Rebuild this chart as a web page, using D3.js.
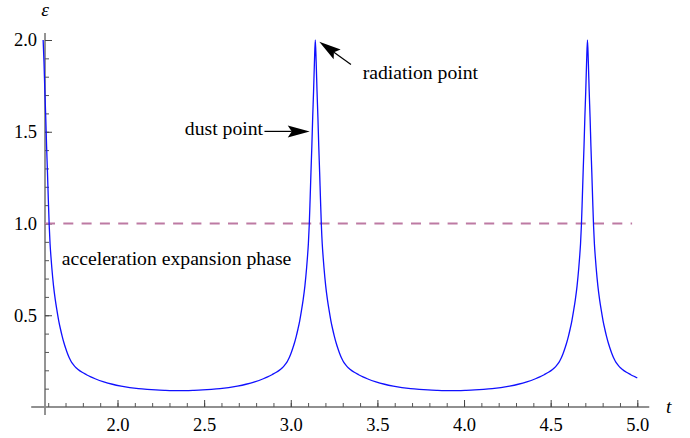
<!DOCTYPE html>
<html>
<head>
<meta charset="utf-8">
<script src="https://cdn.jsdelivr.net/npm/d3@7"></script>
<style>
  html, body { margin: 0; padding: 0; background: #fff; }
  svg { display: block; }
  svg text { font-family: "Liberation Serif", "Times New Roman", serif; fill: #000; }
</style>
</head>
<body>
<svg id="chart" width="690" height="438"></svg>
<script>
// ---- data ----
const tValues = [
  // from the first peak (t = pi/2) down to the valley
  1.5708, 1.5758, 1.5808, 1.5858, 1.5908, 1.5958, 1.6008, 1.6058, 1.6108, 1.6158,
  1.6208, 1.6308, 1.6408, 1.6508, 1.6608, 1.6708, 1.6808, 1.6908, 1.7008, 1.7108,
  1.7208, 1.7308, 1.7408, 1.7508, 1.7608, 1.7708, 1.7958, 1.8208, 1.8458, 1.8708,
  1.9208, 1.9708, 2.0208, 2.0708, 2.1208, 2.1708, 2.2208, 2.2708, 2.3562,
  // up to the second peak (t = pi)
  2.4416, 2.4916, 2.5416, 2.5916, 2.6416, 2.6916, 2.7416, 2.7916, 2.8416, 2.8666,
  2.8916, 2.9166, 2.9416, 2.9516, 2.9616, 2.9716, 2.9816, 2.9916, 3.0016, 3.0116,
  3.0216, 3.0316, 3.0416, 3.0516, 3.0616, 3.0716, 3.0816, 3.0916, 3.0966, 3.1016,
  3.1066, 3.1116, 3.1166, 3.1216, 3.1266, 3.1316, 3.1366, 3.1416,
  // down to the second valley
  3.1466, 3.1516, 3.1566, 3.1616, 3.1666, 3.1716, 3.1766, 3.1816, 3.1866, 3.1916,
  3.2016, 3.2116, 3.2216, 3.2316, 3.2416, 3.2516, 3.2616, 3.2716, 3.2816, 3.2916,
  3.3016, 3.3116, 3.3216, 3.3316, 3.3416, 3.3666, 3.3916, 3.4166, 3.4416, 3.4916,
  3.5416, 3.5916, 3.6416, 3.6916, 3.7416, 3.7916, 3.8416, 3.9270,
  // up to the third peak (t = 3pi/2)
  4.0124, 4.0624, 4.1124, 4.1624, 4.2124, 4.2624, 4.3124, 4.3624, 4.4124, 4.4374,
  4.4624, 4.4874, 4.5124, 4.5224, 4.5324, 4.5424, 4.5524, 4.5624, 4.5724, 4.5824,
  4.5924, 4.6024, 4.6124, 4.6224, 4.6324, 4.6424, 4.6524, 4.6624, 4.6674, 4.6724,
  4.6774, 4.6824, 4.6874, 4.6924, 4.6974, 4.7024, 4.7074, 4.7124,
  // down to t = 5
  4.7174, 4.7224, 4.7274, 4.7324, 4.7374, 4.7424, 4.7474, 4.7524, 4.7574, 4.7624,
  4.7724, 4.7824, 4.7924, 4.8024, 4.8124, 4.8224, 4.8324, 4.8424, 4.8524, 4.8624,
  4.8724, 4.8824, 4.8924, 4.9024, 4.9124, 4.9374, 4.9624, 4.9874, 5.0000
];
const epsValues = [
  2.00, 1.88, 1.72, 1.58, 1.42, 1.28, 1.13, 0.99, 0.89, 0.82,
  0.76, 0.66, 0.585, 0.525, 0.47, 0.425, 0.385, 0.35, 0.32, 0.293,
  0.27, 0.251, 0.236, 0.224, 0.214, 0.206, 0.189, 0.176, 0.164, 0.154,
  0.137, 0.124, 0.114, 0.106, 0.100, 0.096, 0.093, 0.091, 0.089,

  0.091, 0.093, 0.096, 0.100, 0.106, 0.114, 0.124, 0.137, 0.154, 0.164,
  0.176, 0.189, 0.206, 0.214, 0.224, 0.236, 0.251, 0.27, 0.293, 0.32,
  0.35, 0.385, 0.425, 0.47, 0.525, 0.585, 0.66, 0.76, 0.82, 0.89,
  0.99, 1.13, 1.28, 1.42, 1.58, 1.72, 1.88, 2.00,

  1.88, 1.72, 1.58, 1.42, 1.28, 1.13, 0.99, 0.89, 0.82, 0.76,
  0.66, 0.585, 0.525, 0.47, 0.425, 0.385, 0.35, 0.32, 0.293, 0.27,
  0.251, 0.236, 0.224, 0.214, 0.206, 0.189, 0.176, 0.164, 0.154, 0.137,
  0.124, 0.114, 0.106, 0.100, 0.096, 0.093, 0.091, 0.089,

  0.091, 0.093, 0.096, 0.100, 0.106, 0.114, 0.124, 0.137, 0.154, 0.164,
  0.176, 0.189, 0.206, 0.214, 0.224, 0.236, 0.251, 0.27, 0.293, 0.32,
  0.35, 0.385, 0.425, 0.47, 0.525, 0.585, 0.66, 0.76, 0.82, 0.89,
  0.99, 1.13, 1.28, 1.42, 1.58, 1.72, 1.88, 2.00,

  1.88, 1.72, 1.58, 1.42, 1.28, 1.13, 0.99, 0.89, 0.82, 0.76,
  0.66, 0.585, 0.525, 0.47, 0.425, 0.385, 0.35, 0.32, 0.293, 0.27,
  0.251, 0.236, 0.224, 0.214, 0.206, 0.189, 0.176, 0.164, 0.158
];
const referenceLevel = [1.0];                 // dashed line: epsilon = 1
const referenceT = [1.5816, 4.97];
const xTickLabels = ["2.0", "2.5", "3.0", "3.5", "4.0", "4.5", "5.0"];
const yTickLabels = ["0.5", "1.0", "1.5", "2.0"];
const xMinorTicks = d3.range(16, 51).map(d => d / 10);
const yMinorTicks = d3.range(1, 21).map(d => d / 10);
const annotations = [
  { text: "radiation point", t: 3.415, eps: 1.79, anchor: "start" },
  { text: "dust point", t: 2.84, eps: 1.48, anchor: "end" },
  { text: "acceleration expansion phase", t: 1.678, eps: 0.775, anchor: "start" }
];
const arrows = [
  { from: [3.3474, 1.867], to: [3.1646, 1.991] },
  { from: [2.848, 1.502], to: [3.1095, 1.502] }
];
const xAxisT = 1.5816;   // t where the vertical axis stands
const xRange = [1.502, 5.069];
const yRange = [-0.044, 2.038];

// ---- scales ----
const FONT = "'Liberation Serif', 'Times New Roman', serif";
const svg = d3.select("#chart");
const x = d3.scaleLinear().domain([2, 5]).range([117.5, 637.3]);
const y = d3.scaleLinear().domain([0, 2]).range([407, 40]);

// ---- axes ----
const xAxisG = svg.append("g").attr("transform", `translate(0,${y(0)})`);
xAxisG.append("line")
  .attr("x1", x(xRange[0])).attr("x2", x(xRange[1]))
  .attr("y1", 0).attr("y2", 0)
  .attr("stroke", "#222").attr("stroke-width", 1.1);
const xMinor = xAxisG.append("g")
  .call(d3.axisBottom(x).tickValues(xMinorTicks).tickSize(-4).tickFormat(""));
xMinor.select(".domain").remove();
xMinor.selectAll("line").attr("stroke", "#555");
const xMajor = xAxisG.append("g")
  .call(d3.axisBottom(x).tickValues(xTickLabels.map(Number))
    .tickSize(-7).tickPadding(11).tickFormat((d, i) => xTickLabels[i]));
xMajor.attr("font-family", FONT).attr("font-size", 18.5);
xMajor.select(".domain").remove();
xMajor.selectAll("line").attr("stroke", "#444");
xMajor.selectAll("text").attr("fill", "#000")
  .style("font-family", FONT).style("font-size", "18.5px");

const yAxisG = svg.append("g").attr("transform", `translate(${x(xAxisT)},0)`);
yAxisG.append("line")
  .attr("x1", 0).attr("x2", 0)
  .attr("y1", y(yRange[1])).attr("y2", y(yRange[0]))
  .attr("stroke", "#888").attr("stroke-width", 1.8);
const yMinor = yAxisG.append("g")
  .call(d3.axisLeft(y).tickValues(yMinorTicks).tickSize(-4).tickFormat(""));
yMinor.select(".domain").remove();
yMinor.selectAll("line").attr("stroke", "#555");
const yMajor = yAxisG.append("g")
  .call(d3.axisLeft(y).tickValues(yTickLabels.map(Number))
    .tickSize(-7).tickPadding(8).tickFormat((d, i) => yTickLabels[i]));
yMajor.attr("font-family", FONT).attr("font-size", 18.5);
yMajor.select(".domain").remove();
yMajor.selectAll("line").attr("stroke", "#444");
yMajor.selectAll("text").attr("fill", "#000")
  .style("font-family", FONT).style("font-size", "18.5px");

// axis names
svg.append("text").attr("x", x(xAxisT)).attr("y", 15.5)
  .attr("text-anchor", "middle").style("font-family", FONT)
  .style("font-style", "italic").style("font-size", "19.5px").text("ε");
svg.append("text").attr("x", 666).attr("y", 413).style("font-family", FONT)
  .style("font-style", "italic").style("font-size", "19.5px").text("t");

// ---- dashed reference ----
svg.append("line")
  .attr("x1", x(referenceT[0])).attr("x2", x(referenceT[1]))
  .attr("y1", y(referenceLevel[0])).attr("y2", y(referenceLevel[0]))
  .attr("stroke", "#bd7aa3").attr("stroke-width", 1.8)
  .attr("stroke-dasharray", "10,8.3");

// ---- curve ----
const pts = tValues.map((t, i) => [t, epsValues[i]]);
svg.append("path")
  .datum(pts)
  .attr("fill", "none").attr("stroke", "#1010ff").attr("stroke-width", 1.3)
  .attr("d", d3.line().x(d => x(d[0])).y(d => y(d[1])).curve(d3.curveMonotoneX));

// ---- annotations ----
annotations.forEach(a => {
  svg.append("text").attr("x", x(a.t)).attr("y", y(a.eps))
    .attr("text-anchor", a.anchor).style("font-family", FONT)
    .style("font-size", "19.7px").text(a.text);
});

function arrow(a) {
  const x0 = x(a.from[0]), y0 = y(a.from[1]);
  const x1 = x(a.to[0]), y1 = y(a.to[1]);
  const dx = x1 - x0, dy = y1 - y0, L = Math.hypot(dx, dy);
  const ux = dx / L, uy = dy / L, nx = -uy, ny = ux;
  const hl = 22, hw = 6, notch = 4;
  const bx = x1 - ux * hl, by = y1 - uy * hl;
  svg.append("line").attr("x1", x0).attr("y1", y0)
    .attr("x2", bx + ux * notch).attr("y2", by + uy * notch)
    .attr("stroke", "#000").attr("stroke-width", 1.2);
  const p = [
    [x1, y1],
    [bx + nx * hw, by + ny * hw],
    [bx + ux * notch, by + uy * notch],
    [bx - nx * hw, by - ny * hw]
  ];
  svg.append("path").attr("d", "M" + p.map(q => q.join(",")).join("L") + "Z")
    .attr("fill", "#000");
}
arrows.forEach(arrow);
</script>
</body>
</html>
